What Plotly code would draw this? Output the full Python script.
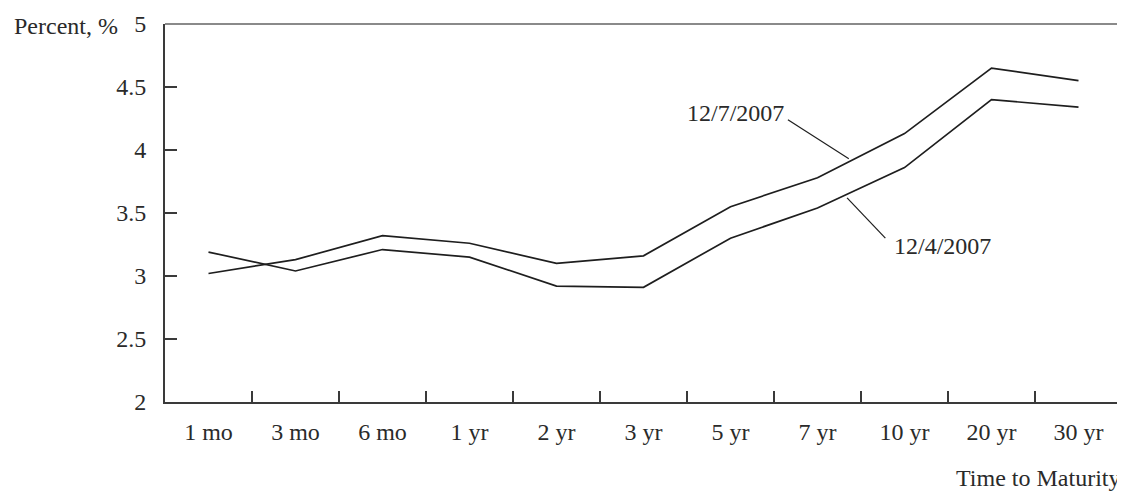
import plotly.graph_objects as go

maturities = ["1 mo", "3 mo", "6 mo", "1 yr", "2 yr", "3 yr", "5 yr", "7 yr", "10 yr", "20 yr", "30 yr"]
yield_dec7 = [3.02, 3.13, 3.32, 3.26, 3.10, 3.16, 3.55, 3.78, 4.13, 4.65, 4.55]
yield_dec4 = [3.19, 3.04, 3.21, 3.15, 2.92, 2.91, 3.30, 3.54, 3.86, 4.40, 4.34]
y_ticks = [2, 2.5, 3, 3.5, 4, 4.5, 5]
y_ticktext = ["2", "2.5", "3", "3.5", "4", "4.5", "5"]

FONT = "Liberation Serif, Times New Roman, serif"
TXT = "#2a2a2a"
LINE = "#1e1e1e"
FS = 24

fig = go.Figure()
fig.add_trace(go.Scatter(x=maturities, y=yield_dec7, mode="lines", name="12/7/2007",
                         line=dict(color=LINE, width=1.7)))
fig.add_trace(go.Scatter(x=maturities, y=yield_dec4, mode="lines", name="12/4/2007",
                         line=dict(color=LINE, width=1.7)))

# page body has an 8px margin, so the figure is sized to fill the rest of the window
fig.update_layout(
    width=1117, height=484,
    margin=dict(l=157, r=3, t=14, b=90),
    paper_bgcolor="white", plot_bgcolor="white",
    showlegend=False,
    font=dict(family=FONT, size=FS, color=TXT),
)
fig.update_xaxes(
    type="category", range=[-0.5, 10.5],
    showline=True, linecolor="#3a3a3a", linewidth=2,
    ticks="inside", tickson="boundaries", ticklen=11, tickcolor="#3a3a3a", tickwidth=1.5,
    showgrid=False, zeroline=False,
    tickfont=dict(family=FONT, size=FS, color=TXT),
    ticklabelstandoff=7,
)
fig.update_yaxes(
    range=[2, 5], tickvals=y_ticks, ticktext=y_ticktext,
    showline=True, linecolor="#3a3a3a", linewidth=2,
    ticks="inside", ticklen=12, tickcolor="#3a3a3a", tickwidth=1.5,
    showgrid=False, zeroline=False,
    tickfont=dict(family=FONT, size=FS, color=TXT),
    ticklabelstandoff=12,
)

# top and right frame lines (lighter)
fig.add_shape(type="line", xref="paper", yref="paper", x0=0, x1=1, y0=1, y1=1,
              line=dict(color="#8a8a8a", width=2))
fig.add_shape(type="line", xref="paper", yref="paper", x0=1, x1=1, y0=0, y1=1,
              line=dict(color="#8a8a8a", width=2))

# leader lines for series labels
fig.add_shape(type="line", xref="x", yref="y", x0=6.66, y0=4.24, x1=7.36, y1=3.93,
              line=dict(color=LINE, width=1.2))
fig.add_shape(type="line", xref="x", yref="y", x0=7.34, y0=3.62, x1=7.78, y1=3.30,
              line=dict(color=LINE, width=1.2))

fig.add_annotation(x=6.06, y=4.29, xref="x", yref="y", text="12/7/2007", showarrow=False,
                   font=dict(family=FONT, size=FS, color=TXT))
fig.add_annotation(x=8.44, y=3.24, xref="x", yref="y", text="12/4/2007", showarrow=False,
                   font=dict(family=FONT, size=FS, color=TXT))

fig.add_annotation(x=-0.047, y=0.995, xref="paper", yref="paper", text="Percent, %",
                   xanchor="right", yanchor="middle", showarrow=False,
                   font=dict(family=FONT, size=FS, color=TXT))
fig.add_annotation(x=1.0, y=-0.2, xref="paper", yref="paper", text="Time to Maturity",
                   xanchor="right", yanchor="middle", showarrow=False,
                   font=dict(family=FONT, size=FS, color=TXT))

fig.write_html("out.html")
